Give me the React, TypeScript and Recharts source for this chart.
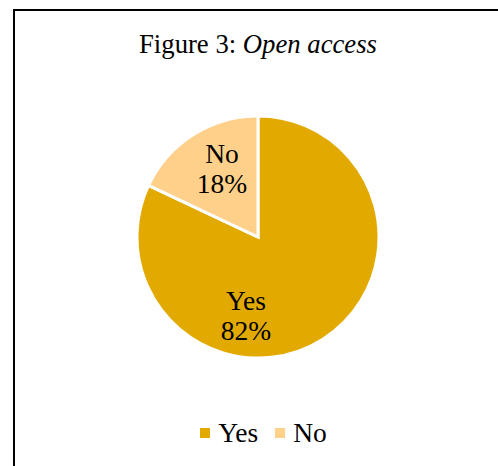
import { PieChart, Pie, Cell, Legend } from "recharts";

const categories = ["Yes", "No"];
const shares = [82, 18];
const colors = ["#E2AA00", "#FFD08A"];

// where excel put the data labels (angle in deg, distance from centre)
const labelAngle: Record<string, number> = { Yes: -98.5, No: 118.3 };
const labelRadius: Record<string, number> = { Yes: 81, No: 76 };

const data = categories.map((name, i) => ({ name, value: shares[i] }));

const FONT = '"Liberation Serif", "Times New Roman", serif';

function renderLabel(props: any) {
  const { cx, cy, name, percent } = props;
  const rad = (labelAngle[name] * Math.PI) / 180;
  const x = cx + labelRadius[name] * Math.cos(rad);
  const y = cy - labelRadius[name] * Math.sin(rad);
  return (
    <text
      x={x}
      y={y}
      textAnchor="middle"
      fill="#000"
      fontFamily={FONT}
      fontSize={27.5}
    >
      <tspan x={x} y={y - 7}>
        {name}
      </tspan>
      <tspan x={x} y={y + 23}>
        {Math.round(percent * 100)}%
      </tspan>
    </text>
  );
}

// legend kept in category order (recharts reverses it for pies)
function LegendContent() {
  return (
    <div
      style={{
        display: "flex",
        justifyContent: "center",
        alignItems: "center",
        fontFamily: FONT,
        fontSize: 27.5,
        lineHeight: "26px",
        color: "#000",
        paddingLeft: 11,
      }}
    >
      {categories.map((c, i) => (
        <div
          key={c}
          style={{ display: "flex", alignItems: "center", marginLeft: i ? 17 : 0 }}
        >
          <span
            style={{ width: 10, height: 10, background: colors[i], marginRight: 8 }}
          />
          <span>{c}</span>
        </div>
      ))}
    </div>
  );
}

export default function App() {
  return (
    <>
      <style>{"html, body { overflow: hidden; }"}</style>
      <div
        style={{
          position: "absolute",
          left: 13,
          top: 9,
          width: 540,
          height: 480,
          borderTop: "2px solid #000",
          borderLeft: "2px solid #000",
          background: "#fff",
        }}
      >
        <div
          style={{
            position: "absolute",
            top: 20,
            left: 0,
            width: 486,
            textAlign: "center",
            fontFamily: FONT,
            fontSize: 26.7,
            lineHeight: "26px",
            color: "#000",
          }}
        >
          Figure 3: <i>Open access</i>
        </div>
        <PieChart
          width={486}
          height={466}
          margin={{ top: 0, right: 0, bottom: 0, left: 0 }}
        >
          <Pie
            data={data}
            dataKey="value"
            nameKey="name"
            cx={243}
            cy={226}
            outerRadius={121}
            startAngle={90}
            endAngle={-270}
            stroke="#fff"
            strokeWidth={3}
            label={renderLabel}
            labelLine={false}
            isAnimationActive={false}
          >
            {data.map((d, i) => (
              <Cell key={d.name} fill={colors[i]} />
            ))}
          </Pie>
          <Legend
            content={<LegendContent />}
            wrapperStyle={{ top: 409, left: 0, width: 486 }}
          />
        </PieChart>
      </div>
    </>
  );
}
